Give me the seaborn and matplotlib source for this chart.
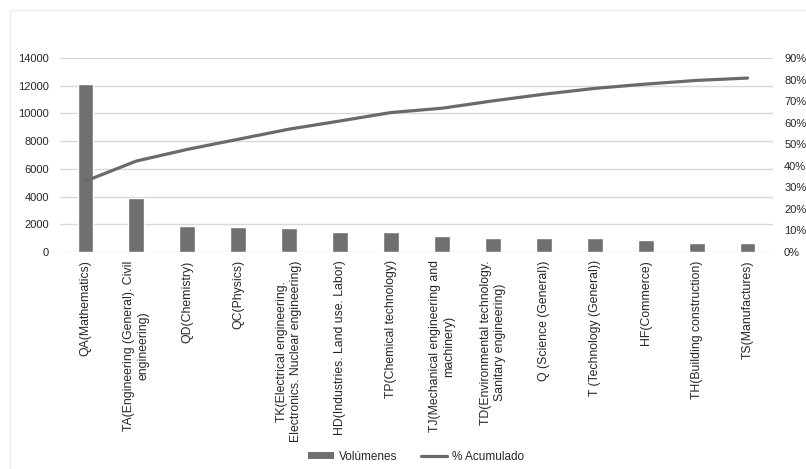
import numpy as np
import pandas as pd
import matplotlib
matplotlib.use('Agg')
import matplotlib.pyplot as plt
import seaborn as sns
from matplotlib.patches import Patch, Rectangle
from matplotlib.lines import Line2D
from matplotlib.ticker import PercentFormatter, MultipleLocator

categories = [
    'QA(Mathematics)',
    'TA(Engineering (General). Civil\nengineering)',
    'QD(Chemistry)',
    'QC(Physics)',
    'TK(Electrical engineering.\nElectronics. Nuclear engineering)',
    'HD(Industries. Land use. Labor)',
    'TP(Chemical technology)',
    'TJ(Mechanical engineering and\nmachinery)',
    'TD(Environmental technology.\nSanitary engineering)',
    'Q (Science (General))',
    'T (Technology (General))',
    'HF(Commerce)',
    'TH(Building construction)',
    'TS(Manufactures)',
]
volumes = [12100, 3900, 1870, 1780, 1710, 1420, 1420, 1130, 1010, 1010, 1010, 840, 670, 670]
cum_pct = [0.329, 0.422, 0.476, 0.523, 0.570, 0.608, 0.647, 0.667, 0.701, 0.732, 0.759, 0.779, 0.796, 0.807]

df = pd.DataFrame({'cat': categories, 'vol': volumes, 'pct': cum_pct})

sns.set_theme(style='white')
plt.rcParams['font.family'] = ['Liberation Sans', 'DejaVu Sans']
plt.rcParams['font.size'] = 8

bar_col = '#707070'
line_col = '#6a6a6a'
grid_col = '#d9d9d9'
txt_col = '#262626'

fig = plt.figure(figsize=(8.06, 4.69), dpi=100)
# faint chart-area border, running off the right and bottom edges
fig.patches.append(Rectangle((10 / 806, -0.1), 1.2, 1 - 10 / 469 + 0.1,
                             transform=fig.transFigure, fill=False,
                             edgecolor='#eeeeee', linewidth=1))
ax = fig.add_axes([60 / 806, 217 / 469, 713 / 806, 194 / 469])

sns.barplot(data=df, x='cat', y='vol', ax=ax, color=bar_col, width=0.31,
            saturation=1, errorbar=None)
ax.set_ylim(0, 14000)
ax.yaxis.set_major_locator(MultipleLocator(2000))
ax.grid(axis='y', color=grid_col, linewidth=1)
ax.set_axisbelow(True)
for s in ax.spines.values():
    s.set_visible(False)
ax.set_xlabel('')
ax.set_ylabel('')
ax.tick_params(axis='y', length=0, pad=8, labelsize=8, labelcolor=txt_col)
ax.tick_params(axis='x', length=0, pad=6)
ax.set_xticks(range(len(categories)))
ax.set_xticklabels(categories, rotation=90, ha='center', va='top',
                   multialignment='center', fontsize=8.8, color=txt_col)

ax2 = ax.twinx()
sns.pointplot(data=df, x='cat', y='pct', ax=ax2, color=line_col,
              marker='', linewidth=2.3, errorbar=None)
ax2.set_ylim(0, 0.9)
ax2.yaxis.set_major_locator(MultipleLocator(0.1))
ax2.yaxis.set_major_formatter(PercentFormatter(1.0, decimals=0))
ax2.tick_params(axis='y', length=0, pad=8, labelsize=8, labelcolor=txt_col)
ax2.set_ylabel('')
ax2.set_xlabel('')
ax2.grid(False)
for s in ax2.spines.values():
    s.set_visible(False)
ax.set_xlim(-0.5, len(categories) - 0.5)

handles = [Patch(facecolor=bar_col, edgecolor='none'),
           Line2D([0], [0], color=line_col, linewidth=2.3)]
fig.legend(handles, ['Volúmenes', '% Acumulado'], loc='center',
           bbox_to_anchor=(416 / 806, 12 / 469), ncol=2, frameon=False,
           fontsize=8.5, handlelength=2.2, handleheight=0.5,
           columnspacing=2.0, handletextpad=0.4, labelcolor=txt_col)

fig.savefig('out.png', dpi=100)
